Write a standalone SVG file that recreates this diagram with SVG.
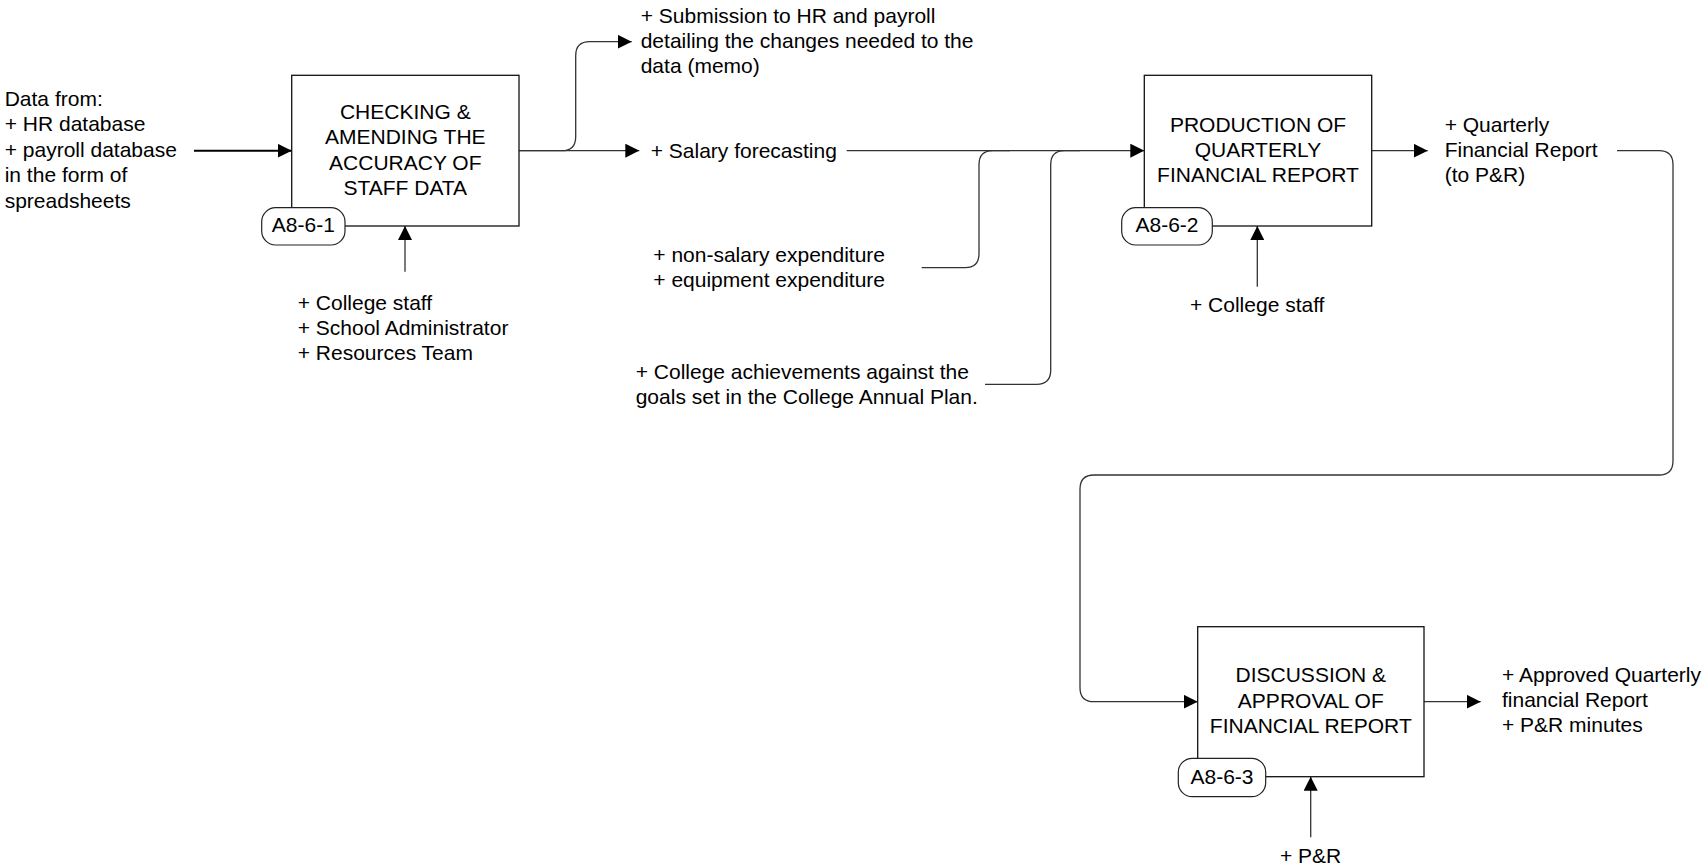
<svg xmlns="http://www.w3.org/2000/svg" width="1707" height="867" viewBox="0 0 1707 867">
<style>
text{font-family:"Liberation Sans",Arial,sans-serif;font-size:21px;fill:#000}
.c{text-anchor:middle}
.box{fill:#fff;stroke:#111;stroke-width:1.3}
.lbl{fill:#fff;stroke:#222;stroke-width:1.2}
.con{fill:none;stroke:#333;stroke-width:1.3}
.in{fill:none;stroke:#000;stroke-width:2}
</style>
<defs>
<marker id="ah" markerUnits="userSpaceOnUse" markerWidth="14" markerHeight="14" refX="14" refY="7" orient="auto">
<path d="M0,0 L14,7 L0,14 z" fill="#000"/>
</marker>
</defs>
<rect width="1707" height="867" fill="#fff"/>
<g id="connectors">
<path class="in" d="M194,150.7 H291.7" marker-end="url(#ah)"/>
<path class="con" d="M519,150.7 H639.3" marker-end="url(#ah)"/>
<path class="con" d="M519,150.7 H561.7 Q575.7,150.7 575.7,136.7 V55.7 Q575.7,41.7 589.7,41.7 H631.7" marker-end="url(#ah)"/>
<path class="con" d="M846.7,150.7 H1144.3" marker-end="url(#ah)"/>
<path class="con" d="M921.7,267.7 H965 Q979,267.7 979,253.7 V164.7 Q979,150.7 993,150.7 H1010"/>
<path class="con" d="M985,384.3 H1036.7 Q1050.7,384.3 1050.7,370.3 V164.7 Q1050.7,150.7 1064.7,150.7 H1080"/>
<path class="con" d="M405,271.7 V226" marker-end="url(#ah)"/>
<path class="con" d="M1257.3,286.7 V226" marker-end="url(#ah)"/>
<path class="con" d="M1371.7,150.7 H1427.7" marker-end="url(#ah)"/>
<path class="con" d="M1617,150.7 H1659 Q1673,150.7 1673,164.7 V461 Q1673,475 1659,475 H1094 Q1080,475 1080,489 V687.7 Q1080,701.7 1094,701.7 H1197.7" marker-end="url(#ah)"/>
<path class="con" d="M1310.7,837.3 V776.7" marker-end="url(#ah)"/>
<path class="con" d="M1424,701.7 H1480.7" marker-end="url(#ah)"/>
</g>
<g id="inputs-text">
<text x="4.7" y="106">Data from:</text>
<text x="4.7" y="131.4">+ HR database</text>
<text x="4.7" y="156.8">+ payroll database</text>
<text x="4.7" y="182.2">in the form of</text>
<text x="4.7" y="207.6">spreadsheets</text>
</g>
<g id="node-a861">
<rect class="box" x="291.7" y="75.3" width="227.3" height="150.7"/>
<text class="c" x="405.3" y="119">CHECKING &amp;</text>
<text class="c" x="405.3" y="144.3">AMENDING THE</text>
<text class="c" x="405.3" y="169.6">ACCURACY OF</text>
<text class="c" x="405.3" y="195">STAFF DATA</text>
<rect class="lbl" x="261.7" y="207.7" width="83.3" height="37.3" rx="14"/>
<text class="c" x="303.3" y="232">A8-6-1</text>
</g>
<g id="mech-1">
<text x="297.7" y="309.5">+ College staff</text>
<text x="297.7" y="335">+ School Administrator</text>
<text x="297.7" y="360.3">+ Resources Team</text>
</g>
<g id="out-submission">
<text x="640.7" y="22.7">+ Submission to HR and payroll</text>
<text x="640.7" y="48">detailing the changes needed to the</text>
<text x="640.7" y="73.3">data (memo)</text>
</g>
<g id="salary">
<text x="650.7" y="157.5">+ Salary forecasting</text>
</g>
<g id="nonsalary">
<text x="653.3" y="262">+ non-salary expenditure</text>
<text x="653.3" y="287.3">+ equipment expenditure</text>
</g>
<g id="achievements">
<text x="635.7" y="378.5">+ College achievements against the</text>
<text x="635.7" y="403.8">goals set in the College Annual Plan.</text>
</g>
<g id="node-a862">
<rect class="box" x="1144.3" y="75.3" width="227.4" height="150.7"/>
<text class="c" x="1258" y="131.7">PRODUCTION OF</text>
<text class="c" x="1258" y="157">QUARTERLY</text>
<text class="c" x="1258" y="182.3">FINANCIAL REPORT</text>
<rect class="lbl" x="1121.7" y="207.7" width="90.6" height="37.3" rx="14"/>
<text class="c" x="1167" y="232">A8-6-2</text>
</g>
<g id="mech-2">
<text x="1190" y="312">+ College staff</text>
</g>
<g id="out-quarterly">
<text x="1444.7" y="131.7">+ Quarterly</text>
<text x="1444.7" y="157">Financial Report</text>
<text x="1444.7" y="182.3">(to P&amp;R)</text>
</g>
<g id="node-a863">
<rect class="box" x="1197.7" y="626.7" width="226.3" height="150"/>
<text class="c" x="1310.8" y="682.3">DISCUSSION &amp;</text>
<text class="c" x="1310.8" y="707.6">APPROVAL OF</text>
<text class="c" x="1310.8" y="733">FINANCIAL REPORT</text>
<rect class="lbl" x="1178.3" y="758.3" width="87.4" height="38.4" rx="14"/>
<text class="c" x="1222" y="784">A8-6-3</text>
</g>
<g id="mech-3">
<text x="1280" y="862.5">+ P&amp;R</text>
</g>
<g id="out-approved">
<text x="1502" y="681.7">+ Approved Quarterly</text>
<text x="1502" y="707">financial Report</text>
<text x="1502" y="732.4">+ P&amp;R minutes</text>
</g>
</svg>
